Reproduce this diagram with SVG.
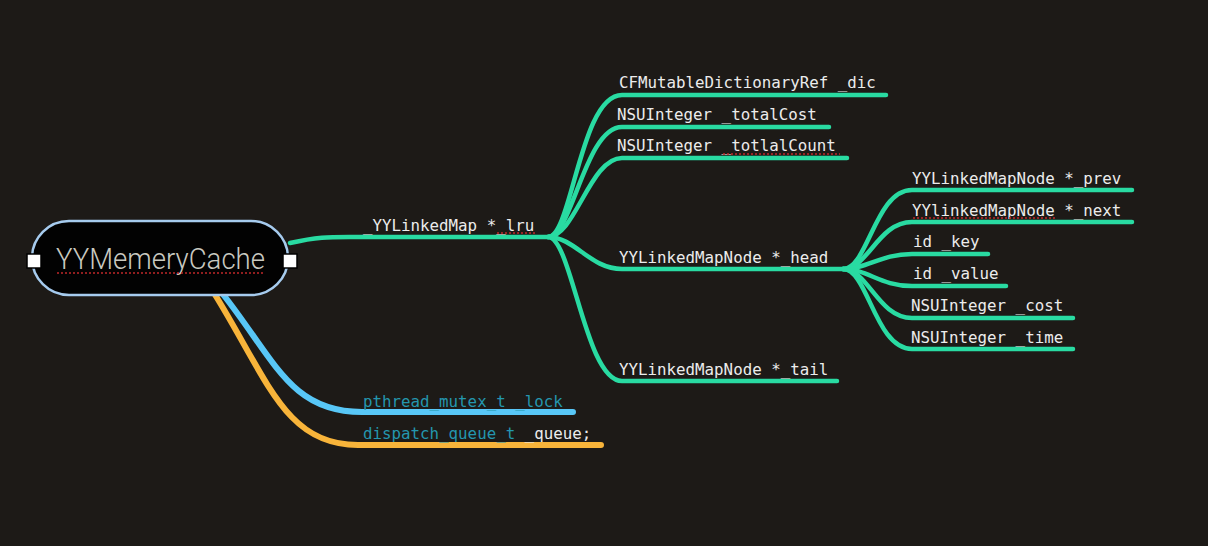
<svg xmlns="http://www.w3.org/2000/svg" width="1208" height="546" viewBox="0 0 1208 546">
<style>
.g{fill:none;stroke:#29dba2;stroke-width:4.5;stroke-linecap:round}
.t{font-family:"DejaVu Sans Mono","Liberation Mono",monospace;font-size:15.8px;fill:#ececec}
.tl{fill:#2496ae}
.sp{stroke:#c0282a;stroke-width:1.6;stroke-dasharray:2 2;fill:none}
</style>
<rect width="1208" height="546" fill="#1d1a17"/>
<g id="connectors">
<path class="g" d="M290 243 C320 236 330 237 365 237 L548 237"/>
<path class="g" d="M548 237 C572 237 580 95 622 95 L886 95"/>
<path class="g" d="M548 237 C572 237 585 127 622 127 L829 127"/>
<path class="g" d="M548 237 C575 237 590 158 622 158 L847 158"/>
<path class="g" d="M548 237 C575 237 590 269 622 269 L843 269"/>
<path class="g" d="M548 237 C572 237 585 381 622 381 L837 381"/>
<path class="g" d="M843 269 C868 269 875 190 912 190 L1132 190"/>
<path class="g" d="M843 269 C868 269 878 222 912 222 L1132 222"/>
<path class="g" d="M843 269 C868 269 880 254 912 254 L988 254"/>
<path class="g" d="M843 269 C868 269 880 286 912 286 L1006 286"/>
<path class="g" d="M843 269 C868 269 878 318 912 318 L1073 318"/>
<path class="g" d="M843 269 C868 269 875 349 912 349 L1073 349"/>
<path d="M222 293 C275 360 290 412 362 412 L573 412" fill="none" stroke="#58c7f7" stroke-width="6" stroke-linecap="round"/>
<path d="M214 293 C268 380 285 445 358 445 L601 445" fill="none" stroke="#f8b43a" stroke-width="6" stroke-linecap="round"/>
</g>
<g id="root">
<rect x="32" y="221" width="256" height="74" rx="37" fill="#020202" stroke="#a6cbee" stroke-width="2.5"/>
<rect x="27" y="254" width="14" height="14" fill="#fff" stroke="#000" stroke-width="1.5"/>
<rect x="283" y="254" width="14" height="14" fill="#fff" stroke="#000" stroke-width="1.5"/>
<text x="56" y="269" font-family="Roboto,'Liberation Sans',Arial,sans-serif" font-size="29" font-weight="300" fill="#c9c9c0" textLength="209" lengthAdjust="spacingAndGlyphs">YYMemeryCache</text>
<line class="sp" x1="57" y1="273" x2="265" y2="273"/>
</g>
<g id="lru"><text class="t" x="363" y="230.5">_YYLinkedMap *_lru</text><line class="sp" x1="497" y1="233" x2="535" y2="233"/></g>
<g id="dic"><text class="t" x="619" y="87.5">CFMutableDictionaryRef _dic</text></g>
<g id="totalCost"><text class="t" x="617" y="119.5">NSUInteger _totalCost</text></g>
<g id="totlalCount"><text class="t" x="617" y="150.5">NSUInteger _totlalCount</text><line class="sp" x1="723" y1="154" x2="840" y2="154"/></g>
<g id="head"><text class="t" x="619" y="262.5">YYLinkedMapNode *_head</text></g>
<g id="tail"><text class="t" x="619" y="374.5">YYLinkedMapNode *_tail</text></g>
<g id="prev"><text class="t" x="912" y="183.5">YYLinkedMapNode *_prev</text></g>
<g id="next"><text class="t" x="912" y="215.5">YYlinkedMapNode *_next</text><line class="sp" x1="913" y1="218" x2="1055" y2="218"/></g>
<g id="key"><text class="t" x="913" y="246.5">id _key</text></g>
<g id="value"><text class="t" x="913" y="278.5">id _value</text></g>
<g id="cost"><text class="t" x="911" y="310.5">NSUInteger _cost</text></g>
<g id="time"><text class="t" x="911" y="342.5">NSUInteger _time</text></g>
<g id="lock"><text class="t tl" x="363" y="406.5">pthread_mutex_t _lock</text></g>
<g id="queue"><text class="t" x="363" y="438.5"><tspan class="tl">dispatch_queue_t</tspan> _queue;</text></g>
</svg>
